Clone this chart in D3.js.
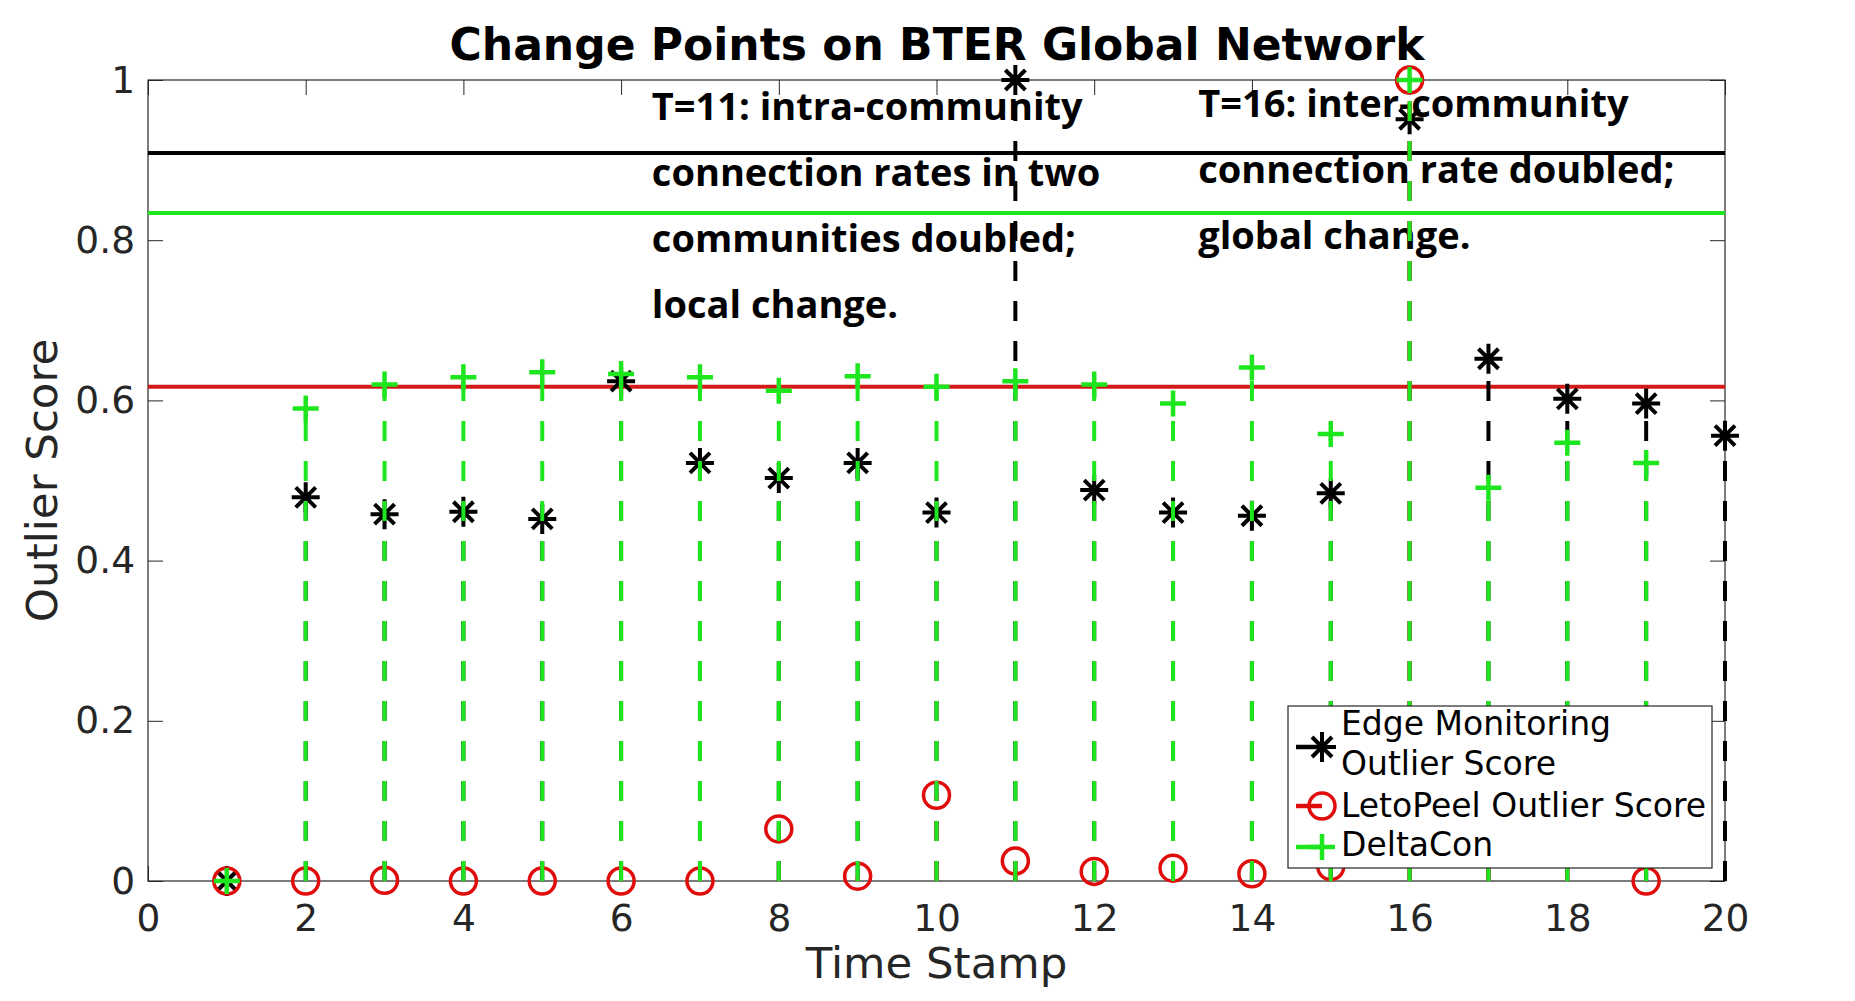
<!DOCTYPE html>
<html>
<head>
<meta charset="utf-8">
<script src="https://cdn.jsdelivr.net/npm/d3@7"></script>
<style>
  body { margin: 0; background: #fff; }
  svg { display: block; }
</style>
</head>
<body>
<svg id="drawing_region"></svg>
<script>
// values
const timeStamps = [1, 2, 3, 4, 5, 6, 7, 8, 9, 10, 11, 12, 13, 14, 15, 16, 17, 18, 19, 20];
const edgeScores = [0, 0.479, 0.458, 0.461, 0.452, 0.624, 0.522, 0.503, 0.522, 0.460,
                    1.0, 0.488, 0.460, 0.456, 0.484, 0.951, 0.652, 0.602, 0.596, 0.556];
const letoScores = [0, 0, 0.001, 0, 0, 0, 0, 0.065, 0.006, 0.107,
                    0.025, 0.012, 0.016, 0.009, 0.018, 1.0, 0.09, 0.07, 0, null];
const deltaScores = [0, 0.590, 0.620, 0.629, 0.635, 0.633, 0.629, 0.612, 0.630, 0.617,
                     0.624, 0.620, 0.596, 0.641, 0.558, 1.0, 0.491, 0.547, 0.522, null];
const thresholds = [0.909, 0.617, 0.834];   // edge, letopeel, deltacon
const seriesLabels = [["Edge Monitoring", "Outlier Score"], ["LetoPeel Outlier Score"], ["DeltaCon"]];
const xTicks = [0, 2, 4, 6, 8, 10, 12, 14, 16, 18, 20];
const yTicks = [0, 0.2, 0.4, 0.6, 0.8, 1];
const note11 = ["T=11: intra-community", "connection rates in two", "communities doubled;", "local change."];
const note16 = ["T=16: inter-community", "connection rate doubled;", "global change."];

const config = {
    parent: '#drawing_region',
    width: 1855,
    height: 1001,
    plot: {left: 148, right: 1725, top: 80, bottom: 881}
};

class StemChart {
    constructor(config) {
        this.config = config;
        this.init();
    }

    init() {
        let self = this;
        const p = self.config.plot;
        self.svg = d3.select(self.config.parent)
            .attr('width', self.config.width)
            .attr('height', self.config.height);
        self.svg.append('rect')
            .attr('width', self.config.width).attr('height', self.config.height)
            .attr('fill', '#fff');

        self.xscale = d3.scaleLinear().domain([0, 20]).range([p.left, p.right]);
        self.yscale = d3.scaleLinear().domain([0, 1]).range([p.bottom, p.top]);

        self.series = [
            {values: edgeScores, color: '#000', marker: 'star', thr: thresholds[0], thrColor: '#000'},
            {values: letoScores, color: '#e00c0c', marker: 'circle', thr: thresholds[1], thrColor: '#d31a1a'},
            {values: deltaScores, color: '#1ee61e', marker: 'plus', thr: thresholds[2], thrColor: '#1ee61e'}
        ];
    }

    marker(g, type, color) {
        if (type === 'circle') {
            g.append('circle').attr('r', 13)
                .attr('fill', 'none').attr('stroke', color).attr('stroke-width', 3.5);
        } else if (type === 'plus') {
            g.append('path').attr('d', 'M-13,0H13M0,-13V13')
                .attr('stroke', color).attr('stroke-width', 4.5);
        } else {
            g.append('path').attr('d', 'M-14,0H14M0,-15V15M-10,-10L10,10M-10,10L10,-10')
                .attr('stroke', color).attr('stroke-width', 4);
        }
    }

    render() {
        let self = this;
        const p = self.config.plot;
        const axisColor = '#262626';

        // axes
        const xaxis = d3.axisBottom(self.xscale).tickValues(xTicks)
            .tickSize(-15).tickPadding(23).tickFormat(d => String(d));
        const yaxis = d3.axisLeft(self.yscale).tickValues(yTicks)
            .tickSize(-15).tickPadding(13).tickFormat(d => String(d));
        const xg = self.svg.append('g').attr('transform', `translate(0,${p.bottom})`).call(xaxis);
        const yg = self.svg.append('g').attr('transform', `translate(${p.left},0)`).call(yaxis);
        self.svg.append('g').attr('transform', `translate(0,${p.top})`)
            .call(d3.axisTop(self.xscale).tickValues(xTicks).tickSize(-15).tickFormat(''));
        self.svg.append('g').attr('transform', `translate(${p.right},0)`)
            .call(d3.axisRight(self.yscale).tickValues(yTicks).tickSize(-15).tickFormat(''));
        self.svg.selectAll('.domain').remove();
        self.svg.selectAll('.tick line').attr('stroke', axisColor);
        [xg, yg].forEach(g => g.selectAll('text')
            .attr('font-family', 'DejaVu Sans').attr('font-size', 37.5).attr('fill', axisColor));
        self.svg.append('rect')
            .attr('x', p.left).attr('y', p.top)
            .attr('width', p.right - p.left).attr('height', p.bottom - p.top)
            .attr('fill', 'none').attr('stroke', axisColor).attr('stroke-width', 1.2);

        // labels
        self.svg.append('text')
            .attr('x', 937).attr('y', 60).attr('text-anchor', 'middle')
            .attr('font-family', 'DejaVu Sans').attr('font-weight', 'bold').attr('font-size', 44)
            .text('Change Points on BTER Global Network');
        self.svg.append('text')
            .attr('x', (p.left + p.right) / 2).attr('y', 978).attr('text-anchor', 'middle')
            .attr('font-family', 'DejaVu Sans').attr('font-size', 43.5).attr('fill', axisColor)
            .text('Time Stamp');
        self.svg.append('text')
            .attr('transform', `translate(57,${(p.top + p.bottom) / 2}) rotate(-90)`)
            .attr('text-anchor', 'middle')
            .attr('font-family', 'DejaVu Sans').attr('font-size', 43.5).attr('fill', axisColor)
            .text('Outlier Score');

        // threshold lines
        self.series.forEach(s => {
            self.svg.append('line')
                .attr('x1', p.left).attr('x2', p.right)
                .attr('y1', self.yscale(s.thr)).attr('y2', self.yscale(s.thr))
                .attr('stroke', s.thrColor).attr('stroke-width', 4);
        });

        // annotations
        const notes = [{lines: note11, x: 6.39, y: 0.950}, {lines: note16, x: 13.32, y: 0.954}];
        notes.forEach(n => {
            self.svg.append('g').selectAll('text')
                .data(n.lines).join('text')
                .attr('x', self.xscale(n.x))
                .attr('y', (d, i) => self.yscale(n.y) + i * 66)
                .attr('font-family', 'Open Sans').attr('font-weight', 'bold').attr('font-size', 38)
                .text(d => d);
        });

        // stems + markers
        self.series.forEach(s => {
            const pts = timeStamps.map((t, i) => ({t: t, v: s.values[i]})).filter(d => d.v !== null);
            const g = self.svg.append('g');
            g.selectAll('line').data(pts).join('line')
                .attr('x1', d => self.xscale(d.t)).attr('x2', d => self.xscale(d.t))
                .attr('y1', self.yscale(0)).attr('y2', d => self.yscale(d.v))
                .attr('stroke', s.color).attr('stroke-width', 4)
                .attr('stroke-dasharray', '20,20');
            g.selectAll('g.m').data(pts).join('g')
                .attr('class', 'm')
                .attr('transform', d => `translate(${self.xscale(d.t)},${self.yscale(d.v)})`)
                .each(function() { self.marker(d3.select(this), s.marker, s.color); });
        });

        // legend
        const lg = self.svg.append('g');
        lg.append('rect')
            .attr('x', 1288).attr('y', 706).attr('width', 424).attr('height', 162)
            .attr('fill', '#fff').attr('stroke', axisColor).attr('stroke-width', 1.2);
        const markerY = [747, 806, 847];
        const textY = [735, 817, 856];
        self.series.forEach((s, i) => {
            lg.append('line')
                .attr('x1', 1296).attr('x2', 1322)
                .attr('y1', markerY[i]).attr('y2', markerY[i])
                .attr('stroke', s.color).attr('stroke-width', 4.5);
            const m = lg.append('g').attr('transform', `translate(1322,${markerY[i]})`);
            self.marker(m, s.marker, s.color);
            seriesLabels[i].forEach((line, j) => {
                lg.append('text')
                    .attr('x', 1341).attr('y', textY[i] + j * 40)
                    .attr('font-family', 'DejaVu Sans').attr('font-size', 33)
                    .text(line);
            });
        });
    }
}

const chart = new StemChart(config);
chart.render();
</script>
</body>
</html>
